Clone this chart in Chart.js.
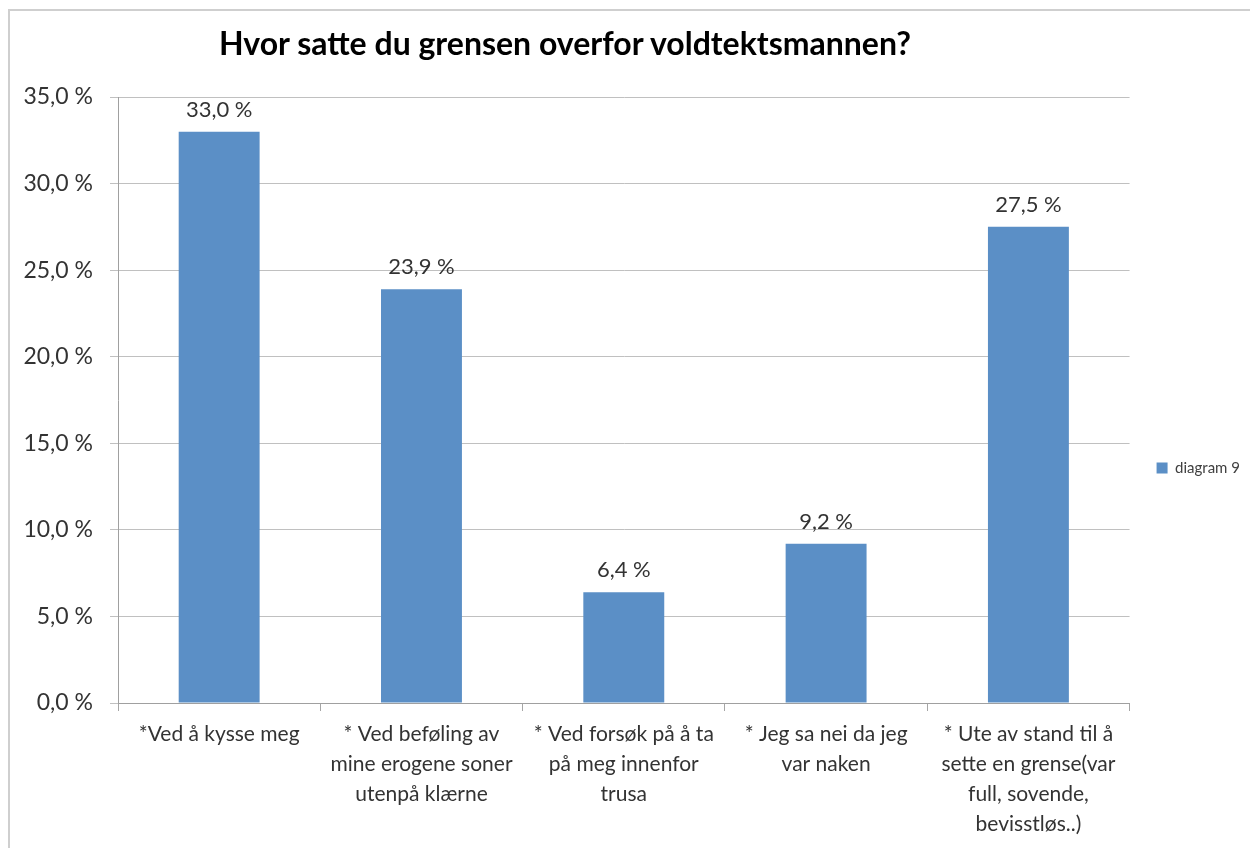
<!DOCTYPE html>
<html lang="no">
<head>
    <meta charset="UTF-8">
    <title>Hvor satte du grensen overfor voldtektsmannen?</title>
    <style>
        html, body {
            margin: 0;
            padding: 0;
            background: #fff;
            overflow: hidden;
            font-family: Lato, "Open Sans", sans-serif;
        }
        .frame-top {
            position: fixed;
            left: 8px;
            top: 9px;
            width: 1242px;
            height: 2px;
            background: #cfcfcf;
        }
        .frame-left {
            position: fixed;
            left: 8px;
            top: 9px;
            width: 2px;
            height: 839px;
            background: #cfcfcf;
        }
        .title {
            position: absolute;
            top: 23px;
            left: 0;
            width: 1130px;
            text-align: center;
            font-weight: bold;
            font-size: 32px;
            color: #000;
        }
        .chart-box {
            position: absolute;
            left: 0;
            top: 0;
            width: 1250px;
            height: 839px;
        }
    </style>
</head>
<body>
    <div class="frame-top"></div>
    <div class="frame-left"></div>
    <div class="title">Hvor satte du grensen overfor voldtektsmannen?</div>
    <div class="chart-box">
        <canvas id="chart"></canvas>
    </div>

    <script src="https://cdn.jsdelivr.net/npm/chart.js"></script>
    <script>
        // data
        const categories = [
            ['*Ved å kysse meg'],
            ['* Ved beføling av', 'mine erogene soner', 'utenpå klærne'],
            ['* Ved forsøk på å ta', 'på meg innenfor', 'trusa'],
            ['* Jeg sa nei da jeg', 'var naken'],
            ['* Ute av stand til å', 'sette en grense(var', 'full, sovende,', 'bevisstløs..)']
        ];
        const seriesName = 'diagram 9';
        const values = [33.0, 23.9, 6.4, 9.2, 27.5];
        const yTicks = [0, 5, 10, 15, 20, 25, 30, 35];

        const fontFamily = 'Lato, "Open Sans", sans-serif';
        const fmt = v => v.toFixed(1).replace('.', ',') + ' %';

        // value labels above the bars
        const barLabels = {
            id: 'barLabels',
            afterDatasetsDraw(chart) {
                const ctx = chart.ctx;
                const meta = chart.getDatasetMeta(0);
                ctx.save();
                ctx.font = '22px ' + fontFamily;
                ctx.fillStyle = '#333';
                ctx.textAlign = 'center';
                ctx.textBaseline = 'middle';
                meta.data.forEach((bar, i) => {
                    ctx.fillText(fmt(values[i]), bar.x, bar.y - 22);
                });
                ctx.restore();
            }
        };

        new Chart(document.getElementById('chart'), {
            type: 'bar',
            data: {
                labels: categories,
                datasets: [{
                    label: seriesName,
                    data: values,
                    backgroundColor: '#5b8fc6',
                    borderWidth: 0,
                    barPercentage: 0.4,
                    categoryPercentage: 1.0
                }]
            },
            options: {
                responsive: true,
                maintainAspectRatio: false,
                animation: false,
                layout: {
                    padding: { top: 97, bottom: 0, left: 0, right: 0 }
                },
                plugins: {
                    title: { display: false },
                    tooltip: { enabled: false },
                    legend: {
                        position: 'right',
                        labels: {
                            boxWidth: 11,
                            boxHeight: 11,
                            padding: 27,
                            color: '#404040',
                            font: { family: fontFamily, size: 15 }
                        }
                    }
                },
                scales: {
                    x: {
                        offset: true,
                        grid: {
                            offset: true,
                            drawOnChartArea: false,
                            drawTicks: true,
                            tickLength: 8,
                            color: '#a6a6a6'
                        },
                        border: { color: '#a0a0a0', width: 1 },
                        ticks: {
                            color: '#333',
                            padding: 8,
                            maxRotation: 0,
                            autoSkip: false,
                            font: { family: fontFamily, size: 21, lineHeight: 1.43 }
                        },
                        afterFit(scale) { scale.height = 136; }
                    },
                    y: {
                        min: 0,
                        max: 35,
                        afterBuildTicks(scale) {
                            scale.ticks = yTicks.map(v => ({ value: v }));
                        },
                        grid: {
                            color: '#c0c0c0',
                            tickLength: 8,
                            drawTicks: true
                        },
                        border: { color: '#a0a0a0', width: 1 },
                        ticks: {
                            color: '#333',
                            padding: 17,
                            font: { family: fontFamily, size: 23 },
                            callback: v => fmt(v)
                        },
                        afterFit(scale) { scale.width = 118; }
                    }
                }
            },
            plugins: [barLabels]
        });
    </script>
</body>
</html>
